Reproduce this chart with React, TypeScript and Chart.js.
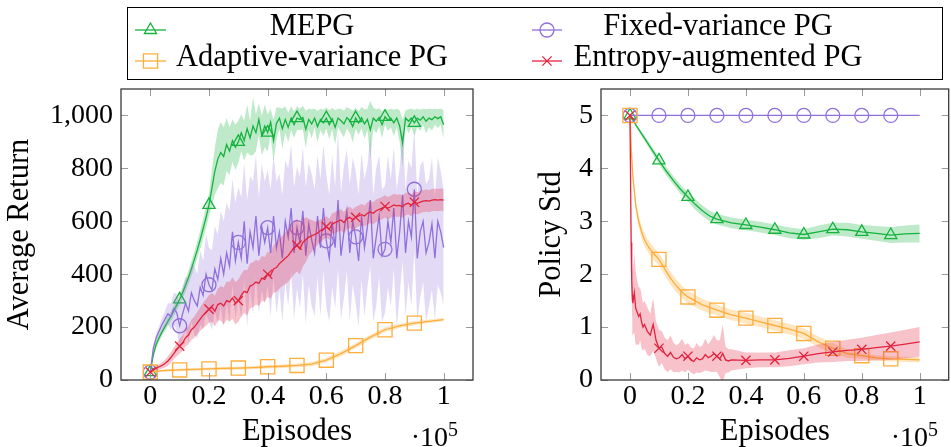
import React, { useEffect, useRef } from 'react';
import { Chart, registerables } from 'chart.js';

Chart.register(...registerables);

const SERIF = '"Liberation Serif", "Times New Roman", Times, serif';

// ---------------- data (x in units of 10^5 episodes) ----------------
const EPISODES = Array.from({ length: 101 }, (_, i) => i / 100);

const X_TICKS = [0, 0.2, 0.4, 0.6, 0.8, 1];
const RETURN_TICKS = [0, 200, 400, 600, 800, 1000];
const STD_TICKS = [0, 1, 2, 3, 4, 5];

const LABELS = ['MEPG', 'Fixed-variance PG', 'Adaptive-variance PG', 'Entropy-augmented PG'];

// --- Average Return ---
const RET_MEPG_MEAN = [30,
  95, 135, 160, 182, 202, 222, 240, 262, 283, 305,
  330, 358, 388, 420, 455, 492, 530, 572, 615, 662,
  725, 790, 835, 860, 845, 890, 865, 905, 880, 900,
  935, 905, 950, 915, 960, 935, 985, 925, 960, 935,
  975, 905, 970, 990, 950, 985, 955, 990, 965, 990,
  985, 992, 948, 985, 968, 990, 958, 985, 972, 990,
  965, 988, 955, 990, 980, 968, 992, 980, 958, 990,
  972, 992, 968, 985, 945, 990, 978, 992, 965, 995,
  982, 990, 972, 990, 960, 895, 990, 978, 990, 972,
  990, 982, 995, 978, 990, 984, 995, 988, 995, 965];
const RET_MEPG_SPREAD = [5,
  10, 15, 15, 15, 18, 18, 18, 20, 20, 22,
  22, 25, 25, 28, 30, 32, 35, 38, 40, 42,
  70, 90, 110, 115, 110, 100, 90, 80, 85, 80,
  70, 75, 90, 65, 110, 70, 60, 75, 80, 70,
  50, 80, 60, 40, 75, 50, 55, 45, 50, 45,
  40, 45, 70, 40, 55, 35, 60, 40, 50, 40,
  55, 40, 65, 35, 45, 50, 40, 45, 60, 40,
  45, 40, 55, 40, 110, 40, 45, 35, 50, 30,
  40, 35, 50, 35, 60, 90, 30, 45, 35, 50,
  35, 40, 30, 45, 35, 40, 30, 35, 30, 55];

const RET_FIXED_MEAN = [30,
  120, 160, 185, 210, 230, 250, 240, 270, 255, 205,
  250, 290, 260, 330, 300, 280, 350, 320, 400, 360,
  340, 420, 380, 460, 400, 480, 430, 560, 450, 520,
  460, 600, 440, 560, 500, 620, 470, 580, 520, 576,
  480, 620, 500, 560, 460, 600, 540, 650, 480, 576,
  520, 640, 470, 590, 530, 480, 620, 500, 650, 526,
  460, 600, 500, 680, 470, 560, 640, 480, 600, 541,
  450, 620, 500, 580, 680, 460, 540, 620, 470, 494,
  600, 520, 650, 460, 560, 700, 480, 600, 540, 721,
  460, 560, 600, 480, 520, 590, 460, 600, 560, 500];
const RET_FIXED_SPREAD = [5,
  10, 15, 20, 25, 30, 40, 50, 60, 70, 80,
  100, 100, 120, 110, 130, 120, 140, 130, 150, 140,
  150, 160, 170, 180, 200, 190, 210, 200, 220, 210,
  230, 220, 240, 210, 250, 230, 220, 240, 230, 220,
  240, 230, 250, 220, 240, 230, 260, 240, 250, 230,
  250, 240, 260, 230, 250, 240, 230, 260, 240, 250,
  240, 250, 230, 260, 240, 250, 230, 260, 240, 250,
  250, 240, 260, 230, 250, 240, 260, 230, 250, 240,
  250, 240, 230, 260, 240, 250, 240, 230, 260, 230,
  240, 250, 230, 260, 240, 250, 230, 240, 230, 220];

const RET_ADAPT_X = [0, 0.05, 0.1, 0.15, 0.2, 0.25, 0.3, 0.35, 0.4, 0.45, 0.5, 0.55, 0.6, 0.65, 0.7, 0.75, 0.8, 0.85, 0.9, 0.95, 1];
const RET_ADAPT_MEAN = [30, 36, 38, 40, 42, 44, 45, 47, 50, 52, 55, 60, 75, 100, 130, 162, 190, 205, 215, 222, 228];
const RET_ADAPT_SPREAD = [3, 4, 5, 5, 5, 6, 6, 6, 7, 7, 7, 8, 9, 10, 10, 10, 9, 8, 8, 7, 6];

const RET_ENT_MEAN = [30,
  38, 45, 50, 55, 62, 72, 85, 100, 115, 128,
  140, 160, 170, 190, 200, 215, 230, 245, 255, 268,
  275, 260, 285, 290, 280, 300, 295, 310, 290, 300,
  320, 335, 330, 355, 360, 370, 365, 385, 380, 400,
  395, 420, 425, 440, 450, 460, 470, 485, 500, 510,
  495, 520, 530, 540, 545, 550, 555, 565, 570, 580,
  570, 590, 595, 600, 605, 595, 610, 615, 605, 615,
  620, 625, 620, 630, 635, 630, 640, 645, 650, 656,
  650, 655, 662, 658, 660, 655, 665, 668, 660, 672,
  668, 672, 676, 678, 676, 680, 682, 680, 682, 680];
const RET_ENT_SPREAD = [3,
  5, 8, 10, 12, 15, 18, 20, 22, 25, 28,
  30, 32, 35, 38, 40, 42, 45, 48, 50, 52,
  55, 58, 60, 65, 70, 72, 75, 78, 80, 80,
  80, 82, 85, 85, 85, 85, 85, 85, 85, 85,
  88, 90, 92, 95, 95, 98, 100, 100, 100, 100,
  95, 90, 85, 70, 60, 50, 45, 42, 40, 40,
  40, 40, 40, 40, 40, 40, 40, 40, 40, 40,
  40, 40, 40, 42, 42, 42, 42, 42, 42, 42,
  42, 42, 42, 42, 42, 42, 42, 42, 42, 42,
  42, 42, 42, 42, 42, 42, 42, 42, 42, 42];

// --- Policy Std ---
const STD_FIXED_X = [0, 0.1, 0.2, 0.3, 0.4, 0.5, 0.6, 0.7, 0.8, 0.9, 1];
const STD_FIXED_MEAN = [5, 5, 5, 5, 5, 5, 5, 5, 5, 5, 5];

const STD_MEPG_X = [0, 0.025, 0.05, 0.075, 0.1, 0.125, 0.15, 0.175, 0.2, 0.225, 0.25, 0.275, 0.3, 0.35, 0.4, 0.45, 0.5, 0.55, 0.6, 0.65, 0.7, 0.75, 0.8, 0.85, 0.9, 0.95, 1];
const STD_MEPG_MEAN = [5, 4.78, 4.57, 4.36, 4.15, 3.95, 3.77, 3.6, 3.46, 3.32, 3.2, 3.1, 3.04, 2.97, 2.93, 2.89, 2.84, 2.78, 2.75, 2.8, 2.85, 2.84, 2.8, 2.77, 2.74, 2.76, 2.77];
const STD_MEPG_SPREAD = [0, 0.03, 0.05, 0.06, 0.07, 0.08, 0.08, 0.09, 0.09, 0.1, 0.1, 0.1, 0.1, 0.1, 0.1, 0.1, 0.1, 0.1, 0.1, 0.12, 0.12, 0.13, 0.13, 0.14, 0.15, 0.16, 0.17];

const STD_ADAPT_X = [0, 0.005, 0.01, 0.02, 0.03, 0.04, 0.05, 0.06, 0.07, 0.08, 0.09, 0.1, 0.12, 0.14, 0.16, 0.18, 0.2, 0.25, 0.3, 0.35, 0.4, 0.45, 0.5, 0.55, 0.6, 0.65, 0.7, 0.75, 0.8, 0.85, 0.9, 0.95, 1];
const STD_ADAPT_MEAN = [5, 4.3, 3.85, 3.3, 3.0, 2.8, 2.65, 2.55, 2.47, 2.4, 2.34, 2.28, 2.1, 1.92, 1.78, 1.66, 1.57, 1.42, 1.32, 1.23, 1.17, 1.1, 1.03, 0.96, 0.88, 0.72, 0.6, 0.5, 0.46, 0.42, 0.4, 0.39, 0.38];
const STD_ADAPT_SPREAD = [0, 0.05, 0.07, 0.1, 0.1, 0.12, 0.12, 0.12, 0.12, 0.12, 0.12, 0.12, 0.12, 0.12, 0.12, 0.12, 0.12, 0.11, 0.1, 0.1, 0.1, 0.1, 0.1, 0.1, 0.1, 0.1, 0.1, 0.08, 0.06, 0.05, 0.05, 0.05, 0.05];

const STD_ENT_X = [0, 0.002, 0.004, 0.006, 0.008, 0.01, 0.015, 0.02, 0.025, 0.03, 0.035, 0.04, 0.045, 0.05,
  0.06, 0.07, 0.08, 0.09, 0.1, 0.11, 0.12, 0.13, 0.14, 0.15, 0.16, 0.17, 0.18, 0.19, 0.2,
  0.21, 0.22, 0.23, 0.24, 0.25, 0.26, 0.27, 0.28, 0.29, 0.3, 0.31, 0.32, 0.33, 0.34, 0.35,
  0.4, 0.45, 0.5, 0.55, 0.6, 0.65, 0.7, 0.75, 0.8, 0.85, 0.9, 0.95, 1];
const STD_ENT_MEAN = [5, 3.8, 2.6, 1.9, 1.6, 1.45, 1.65, 1.35, 1.28, 1.2, 1.25, 1.1, 1.0, 1.05,
  0.92, 0.85, 1.05, 0.75, 0.6, 0.62, 0.5, 0.45, 0.52, 0.43, 0.4, 0.42, 0.48, 0.4, 0.45,
  0.38, 0.35, 0.42, 0.38, 0.4, 0.48, 0.42, 0.45, 0.5, 0.45, 0.4, 0.5, 0.38, 0.36, 0.38,
  0.37, 0.38, 0.38, 0.41, 0.45, 0.5, 0.53, 0.56, 0.58, 0.61, 0.64, 0.68, 0.72];
const STD_ENT_SPREAD = [0, 0.2, 0.3, 0.4, 0.5, 0.6, 0.75, 0.7, 0.6, 0.55, 0.5, 0.5, 0.45, 0.45,
  0.45, 0.4, 0.5, 0.35, 0.35, 0.3, 0.3, 0.3, 0.32, 0.28, 0.25, 0.28, 0.3, 0.26, 0.25,
  0.24, 0.24, 0.28, 0.25, 0.25, 0.3, 0.25, 0.3, 0.35, 0.3, 0.35, 0.55, 0.25, 0.22, 0.2,
  0.15, 0.14, 0.14, 0.15, 0.15, 0.17, 0.19, 0.2, 0.22, 0.24, 0.26, 0.27, 0.28];

// ---------------- styles ----------------
const STYLES = [
  { color: '#14b23e', band: 'rgba(20,178,62,0.28)', marker: 'triangle', radius: 7 },
  { color: '#9070dc', band: 'rgba(144,112,220,0.25)', marker: 'circle', radius: 7 },
  { color: '#ffad3b', band: 'rgba(255,173,59,0.32)', marker: 'rect', radius: 10 },
  { color: '#e2233f', band: 'rgba(226,35,63,0.28)', marker: 'crossRot', radius: 6.5 },
];

type Series = { xs: number[]; mean: number[]; spread?: number[] };

const isMarker = (x: number) => {
  if (typeof x !== 'number') return false;
  const k = x * 10;
  return Math.abs(k - Math.round(k)) < 1e-6 && x < 0.95;
};

function buildDatasets(series: Series[]) {
  const ds: any[] = [];
  series.forEach((s, si) => {
    const st = STYLES[si];
    const orderBase = (series.length - si) * 2;
    if (s.spread) {
      const upperIdx = ds.length;
      ds.push({
        label: LABELS[si] + ' upper',
        data: s.xs.map((x, i) => ({ x, y: s.mean[i] + s.spread![i] })),
        borderColor: 'rgba(0,0,0,0)', borderWidth: 0, pointRadius: 0,
        backgroundColor: st.band, fill: upperIdx + 1, order: orderBase, tension: 0,
      });
      ds.push({
        label: LABELS[si] + ' lower',
        data: s.xs.map((x, i) => ({ x, y: s.mean[i] - s.spread![i] })),
        borderColor: 'rgba(0,0,0,0)', borderWidth: 0, pointRadius: 0,
        fill: false, order: orderBase, tension: 0,
      });
    }
    ds.push({
      label: LABELS[si],
      data: s.xs.map((x, i) => ({ x, y: s.mean[i] })),
      borderColor: st.color, borderWidth: 1.3, fill: false, tension: 0,
      pointStyle: st.marker,
      pointRadius: (c: any) => (c.raw && isMarker(c.raw.x) ? st.radius : 0),
      pointHoverRadius: 0,
      pointBorderColor: st.color, pointBackgroundColor: 'rgba(0,0,0,0)', pointBorderWidth: 1.3,
      order: orderBase - 1,
    });
  });
  return ds;
}

function drawMarker(ctx: CanvasRenderingContext2D, style: string, x: number, y: number, r: number, color: string) {
  ctx.save();
  ctx.strokeStyle = color;
  ctx.lineWidth = 1.3;
  ctx.beginPath();
  if (style === 'triangle') {
    for (let k = 0; k < 3; k++) {
      const a = (k * 2 * Math.PI) / 3;
      const px = x + Math.sin(a) * r, py = y - Math.cos(a) * r;
      if (k === 0) ctx.moveTo(px, py); else ctx.lineTo(px, py);
    }
    ctx.closePath();
  } else if (style === 'circle') {
    ctx.arc(x, y, r, 0, Math.PI * 2);
  } else if (style === 'rect') {
    const h = r * Math.SQRT1_2;
    ctx.rect(x - h, y - h, 2 * h, 2 * h);
  } else {
    const h = r * Math.SQRT1_2;
    ctx.moveTo(x - h, y - h); ctx.lineTo(x + h, y + h);
    ctx.moveTo(x - h, y + h); ctx.lineTo(x + h, y - h);
  }
  ctx.stroke();
  ctx.restore();
}

function framePlugin(xTicks: number[], yTicks: number[]) {
  return {
    id: 'pgfFrame',
    afterDatasetsDraw(chart: any) {
      const { ctx, chartArea } = chart;
      const { left, right, top, bottom } = chartArea;
      const xs = chart.scales.x, ys = chart.scales.y;
      ctx.save();
      ctx.strokeStyle = '#9a9a9a';
      ctx.lineWidth = 1;
      const L = 7;
      ctx.beginPath();
      xTicks.forEach((v) => {
        const p = Math.round(xs.getPixelForValue(v)) + 0.5;
        ctx.moveTo(p, bottom); ctx.lineTo(p, bottom - L);
        ctx.moveTo(p, top); ctx.lineTo(p, top + L);
      });
      yTicks.forEach((v) => {
        const p = Math.round(ys.getPixelForValue(v)) + 0.5;
        ctx.moveTo(left, p); ctx.lineTo(left + L, p);
        ctx.moveTo(right, p); ctx.lineTo(right - L, p);
      });
      ctx.stroke();
      ctx.strokeStyle = '#3a3a3a';
      ctx.lineWidth = 1.3;
      ctx.strokeRect(left, top, right - left, bottom - top);
      // x-axis scale factor  ·10^5
      ctx.fillStyle = '#000';
      ctx.textBaseline = 'alphabetic';
      ctx.font = `28px ${SERIF}`;
      ctx.textAlign = 'right';
      const ex = left + 327;
      ctx.fillText('\u00b710', ex, 446);
      ctx.font = `20px ${SERIF}`;
      ctx.textAlign = 'left';
      ctx.fillText('5', ex, 436);
      ctx.restore();
    },
  };
}

const legendPlugin = {
  id: 'pgfLegend',
  afterDraw(chart: any) {
    const { ctx } = chart;
    ctx.save();
    ctx.fillStyle = '#fff';
    ctx.fillRect(127, 7, 815, 72);
    ctx.strokeStyle = '#000';
    ctx.lineWidth = 1;
    ctx.strokeRect(127.5, 7.5, 815, 72);
    const cols = [
      { x0: 135, x1: 166, tc: 312 },
      { x0: 532, x1: 562, tc: 718 },
    ];
    const rows = [30, 61];
    const slots = [[0, 0], [1, 0], [0, 1], [1, 1]]; // [col,row] for MEPG, Fixed, Adaptive, Entropy
    ctx.font = `30.5px ${SERIF}`;
    ctx.textAlign = 'center';
    ctx.textBaseline = 'middle';
    slots.forEach(([c, r], i) => {
      const st = STYLES[i];
      const col = cols[c];
      const y = rows[r];
      ctx.strokeStyle = st.color;
      ctx.lineWidth = 1.3;
      ctx.beginPath();
      ctx.moveTo(col.x0, y); ctx.lineTo(col.x1, y);
      ctx.stroke();
      drawMarker(ctx, st.marker, (col.x0 + col.x1) / 2, y, st.radius, st.color);
      ctx.fillStyle = '#000';
      ctx.fillText(LABELS[i], col.tc, y - 3);
    });
    ctx.restore();
  },
};

function makeOptions(yMax: number, yTicks: number[], yTitle: string, padLeft: number, padRight: number, yWidth: number, fmtY: (v: number) => string) {
  return {
    responsive: false,
    maintainAspectRatio: false,
    animation: false as const,
    layout: { padding: { left: padLeft, right: padRight, top: 89, bottom: 0 } },
    plugins: { legend: { display: false }, tooltip: { enabled: false } },
    events: [],
    scales: {
      x: {
        type: 'linear' as const,
        min: -0.1, max: 1.1,
        afterBuildTicks: (s: any) => { s.ticks = X_TICKS.map((v) => ({ value: v })); },
        afterFit: (s: any) => { s.height = 67; },
        grid: { display: false, drawTicks: false },
        border: { display: false },
        ticks: { color: '#000', font: { family: SERIF, size: 28 }, padding: 0, maxRotation: 0, autoSkip: false, callback: (v: any) => String(v) },
        title: { display: true, text: 'Episodes', color: '#000', font: { family: SERIF, size: 30.5, lineHeight: 0.95 }, padding: { top: 0, bottom: 1 } },
      },
      y: {
        type: 'linear' as const,
        min: 0, max: yMax,
        afterBuildTicks: (s: any) => { s.ticks = yTicks.map((v) => ({ value: v })); },
        afterFit: (s: any) => { s.width = yWidth; },
        grid: { display: false, drawTicks: false },
        border: { display: false },
        ticks: { color: '#000', font: { family: SERIF, size: 28 }, padding: 8, autoSkip: false, callback: (v: any) => fmtY(Number(v)) },
        title: { display: true, text: yTitle, color: '#000', font: { family: SERIF, size: 30.5 }, padding: { top: 2, bottom: 0 } },
      },
    },
  };
}

export default function App() {
  const leftRef = useRef<HTMLCanvasElement>(null);
  const rightRef = useRef<HTMLCanvasElement>(null);

  useEffect(() => {
    document.body.style.margin = '0';
    const left = new Chart(leftRef.current!, {
      type: 'line',
      data: {
        datasets: buildDatasets([
          { xs: EPISODES, mean: RET_MEPG_MEAN, spread: RET_MEPG_SPREAD },
          { xs: EPISODES, mean: RET_FIXED_MEAN, spread: RET_FIXED_SPREAD },
          { xs: RET_ADAPT_X, mean: RET_ADAPT_MEAN, spread: RET_ADAPT_SPREAD },
          { xs: EPISODES, mean: RET_ENT_MEAN, spread: RET_ENT_SPREAD },
        ]),
      },
      options: makeOptions(1100, RETURN_TICKS, 'Average Return', 0, 951 - 473, 121,
        (v) => v.toLocaleString('en-US')) as any,
      plugins: [framePlugin(X_TICKS, RETURN_TICKS), legendPlugin],
    });
    const right = new Chart(rightRef.current!, {
      type: 'line',
      data: {
        datasets: buildDatasets([
          { xs: STD_MEPG_X, mean: STD_MEPG_MEAN, spread: STD_MEPG_SPREAD },
          { xs: STD_FIXED_X, mean: STD_FIXED_MEAN },
          { xs: STD_ADAPT_X, mean: STD_ADAPT_MEAN, spread: STD_ADAPT_SPREAD },
          { xs: STD_ENT_X, mean: STD_ENT_MEAN, spread: STD_ENT_SPREAD },
        ]),
      },
      options: makeOptions(5.5, STD_TICKS, 'Policy Std', 51.4, 7, 121 - 51.4,
        (v) => String(v)) as any,
      plugins: [framePlugin(X_TICKS, STD_TICKS)],
    });
    return () => { left.destroy(); right.destroy(); };
  }, []);

  return (
    <div style={{ position: 'fixed', left: 0, top: 0, width: 951, height: 447, overflow: 'hidden', background: '#fff' }}>
      <canvas ref={leftRef} width={951} height={447} style={{ position: 'absolute', left: 0, top: 0, width: 951, height: 447 }} />
      <canvas ref={rightRef} width={480} height={447} style={{ position: 'absolute', left: 480, top: 0, width: 480, height: 447 }} />
    </div>
  );
}
